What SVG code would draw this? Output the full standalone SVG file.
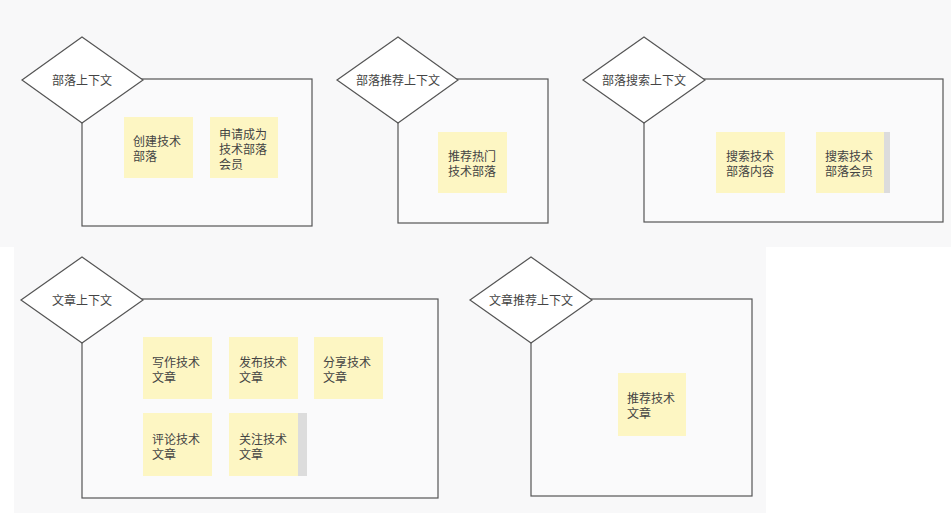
<svg xmlns="http://www.w3.org/2000/svg" width="951" height="513" viewBox="0 0 951 513">
<style>
text{font-family:"Noto Sans CJK SC","Noto Sans",sans-serif;font-size:12px;fill:#444}
.box{fill:#fafafb;stroke:#555;stroke-width:1.2}
.dia{fill:#fff;stroke:#555;stroke-width:1.2}
.st{fill:#fdf6c3}
.sh{fill:#dcdcdc}
.c{text-anchor:middle}
</style>
<rect x="0" y="0" width="951" height="513" fill="#fff"/>
<rect x="0" y="0" width="951" height="247" fill="#f8f8f9"/>
<rect x="14" y="247" width="752" height="266" fill="#f8f8f9"/>
<g id="connectors"></g>

<g id="ctx-tribe">
<rect class="box" x="82" y="79" width="230" height="147"/>
<polygon class="dia" points="22,80 82,37 143,80 82,123"/>
<text class="c" x="82" y="85">部落上下文</text>
</g>
<g id="create-tribe">
<rect class="st" x="124" y="117" width="69" height="61"/>
<text x="133" y="146">创建技术<tspan x="133" dy="15">部落</tspan></text>
</g>
<g id="join-tribe">
<rect class="st" x="210" y="117" width="68" height="61"/>
<text x="219" y="139">申请成为<tspan x="219" dy="15">技术部落</tspan><tspan x="219" dy="15">会员</tspan></text>
</g>

<g id="ctx-tribe-recommend">
<rect class="box" x="398" y="79" width="150" height="144"/>
<polygon class="dia" points="337,80 398,37 458,80 398,123"/>
<text class="c" x="398" y="85">部落推荐上下文</text>
</g>
<g id="recommend-tribe">
<rect class="st" x="438" y="132" width="69" height="61"/>
<text x="448" y="161">推荐热门<tspan x="448" dy="15">技术部落</tspan></text>
</g>

<g id="ctx-tribe-search">
<rect class="box" x="644" y="79" width="299" height="143"/>
<polygon class="dia" points="583,80 644,37 705,80 644,123"/>
<text class="c" x="644" y="85">部落搜索上下文</text>
</g>
<g id="search-content">
<rect class="st" x="716" y="132" width="69" height="61"/>
<text x="726" y="161">搜索技术<tspan x="726" dy="15">部落内容</tspan></text>
</g>
<g id="search-member">
<rect class="sh" x="884" y="132" width="6" height="61"/>
<rect class="st" x="816" y="132" width="68" height="61"/>
<text x="825" y="161">搜索技术<tspan x="825" dy="15">部落会员</tspan></text>
</g>

<g id="ctx-article">
<rect class="box" x="82" y="299" width="356" height="199"/>
<polygon class="dia" points="21,300 82,257 143,300 82,343"/>
<text class="c" x="82" y="305">文章上下文</text>
</g>
<g id="write-article">
<rect class="st" x="143" y="337" width="69" height="62"/>
<text x="152" y="367">写作技术<tspan x="152" dy="15">文章</tspan></text>
</g>
<g id="publish-article">
<rect class="st" x="229" y="337" width="69" height="62"/>
<text x="239" y="367">发布技术<tspan x="239" dy="15">文章</tspan></text>
</g>
<g id="share-article">
<rect class="st" x="314" y="337" width="69" height="62"/>
<text x="323" y="367">分享技术<tspan x="323" dy="15">文章</tspan></text>
</g>
<g id="comment-article">
<rect class="st" x="143" y="413" width="69" height="63"/>
<text x="152" y="444">评论技术<tspan x="152" dy="15">文章</tspan></text>
</g>
<g id="follow-article">
<rect class="sh" x="298" y="413" width="9" height="63"/>
<rect class="st" x="229" y="413" width="69" height="63"/>
<text x="239" y="444">关注技术<tspan x="239" dy="15">文章</tspan></text>
</g>

<g id="ctx-article-recommend">
<rect class="box" x="531" y="299" width="221" height="197"/>
<polygon class="dia" points="470,300 531,257 592,300 531,343"/>
<text class="c" x="531" y="305">文章推荐上下文</text>
</g>
<g id="recommend-article">
<rect class="st" x="618" y="373" width="68" height="63"/>
<text x="627" y="403">推荐技术<tspan x="627" dy="15">文章</tspan></text>
</g>
</svg>
